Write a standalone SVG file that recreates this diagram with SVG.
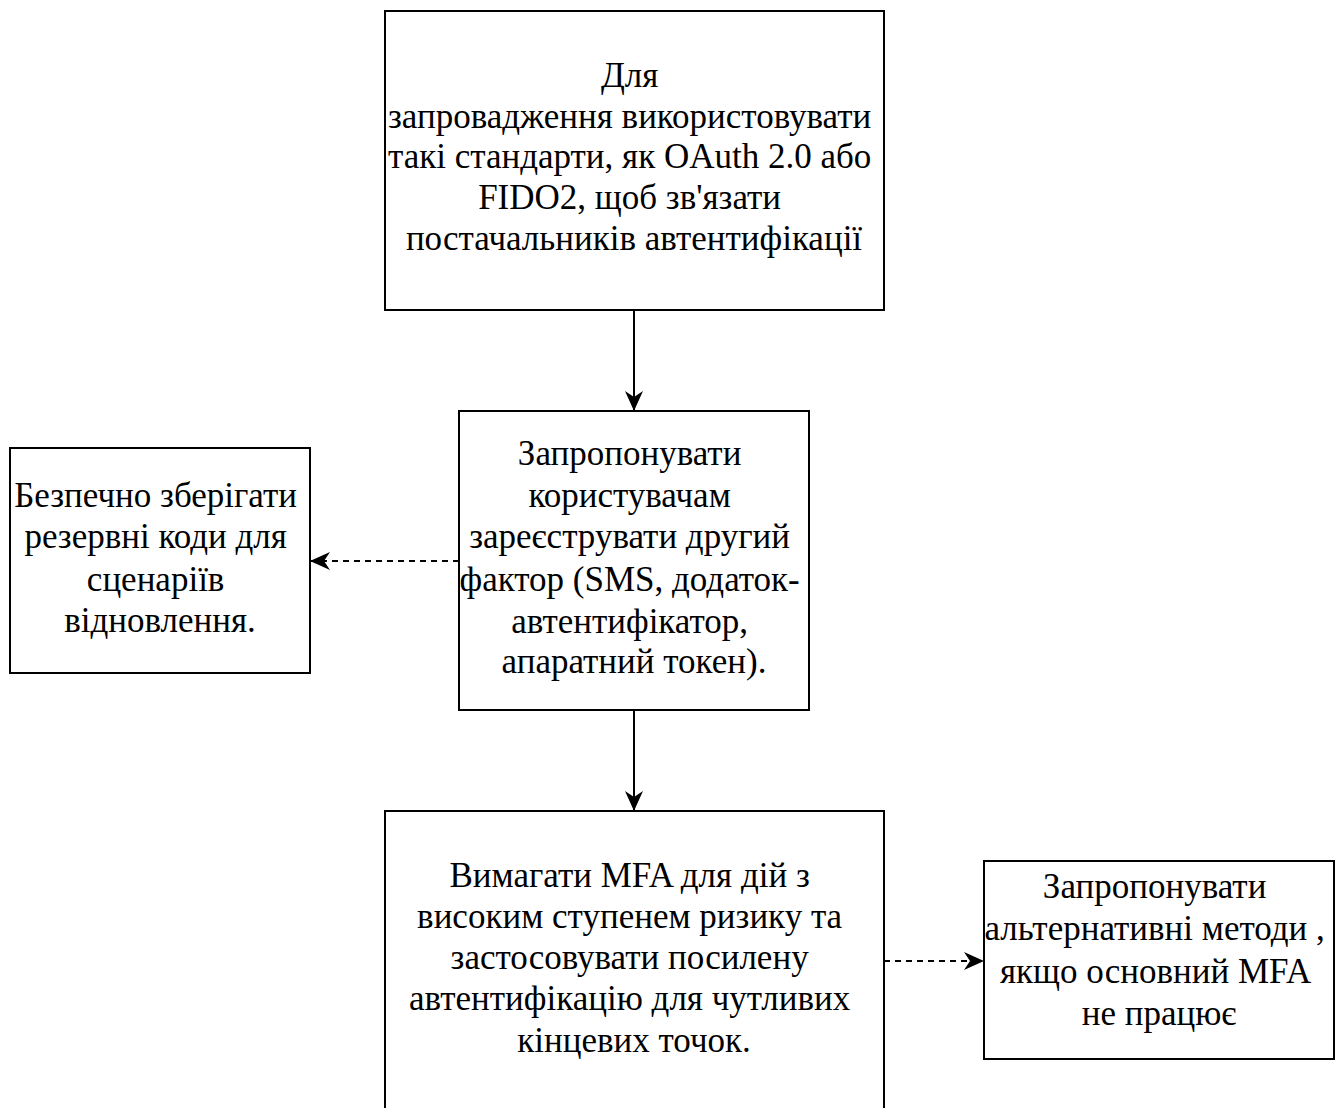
<svg xmlns="http://www.w3.org/2000/svg" width="1343" height="1108" viewBox="0 0 1343 1108">
  <style>
    .box { fill: #ffffff; stroke: #000000; stroke-width: 2; }
    .lbl { font-family: "Liberation Serif", "Times New Roman", serif; font-size: 35px; fill: #000000; text-anchor: middle; }
    .edge { fill: none; stroke: #000000; stroke-width: 2; }
    .dashed { stroke-dasharray: 6 5; }
  </style>
  <defs>
    <!-- notched arrowhead shared by all connectors -->
    <marker id="arrow" viewBox="0 0 20 18" refX="19" refY="9" markerWidth="20" markerHeight="18" markerUnits="userSpaceOnUse" orient="auto">
      <path d="M0,0 L20,9 L0,18 L6,9 Z" fill="#000000"/>
    </marker>
  </defs>
  <rect width="1343" height="1108" fill="#ffffff"/>

  <g id="connectors">
    <line class="edge" x1="634" y1="310" x2="634" y2="410" marker-end="url(#arrow)"/>
    <line class="edge" x1="634" y1="710" x2="634" y2="810" marker-end="url(#arrow)"/>
    <line class="edge dashed" x1="459" y1="561" x2="311" y2="561" marker-end="url(#arrow)"/>
    <line class="edge dashed" x1="884" y1="961" x2="983" y2="961" marker-end="url(#arrow)"/>
  </g>

  <g id="node-standards">
    <rect class="box" x="385" y="11" width="499" height="299"/>
    <text class="lbl">
      <tspan x="634" y="87">Для</tspan>
      <tspan x="634" y="128">запровадження використовувати</tspan>
      <tspan x="634" y="168">такі стандарти, як OAuth 2.0 або</tspan>
      <tspan x="634" y="209">FIDO2, щоб зв'язати</tspan>
      <tspan x="634" y="250">постачальників автентифікації</tspan>
    </text>
  </g>

  <g id="node-register">
    <rect class="box" x="459" y="411" width="350" height="299"/>
    <text class="lbl">
      <tspan x="634" y="465">Запропонувати</tspan>
      <tspan x="634" y="507">користувачам</tspan>
      <tspan x="634" y="548">зареєструвати другий</tspan>
      <tspan x="634" y="591">фактор (SMS, додаток-</tspan>
      <tspan x="634" y="633">автентифікатор,</tspan>
      <tspan x="634" y="673">апаратний токен).</tspan>
    </text>
  </g>

  <g id="node-backup">
    <rect class="box" x="10" y="448" width="300" height="225"/>
    <text class="lbl">
      <tspan x="160" y="507">Безпечно зберігати</tspan>
      <tspan x="160" y="548">резервні коди для</tspan>
      <tspan x="160" y="591">сценаріїв</tspan>
      <tspan x="160" y="632">відновлення.</tspan>
    </text>
  </g>

  <g id="node-mfa">
    <rect class="box" x="385" y="811" width="499" height="320"/>
    <text class="lbl">
      <tspan x="634" y="887">Вимагати MFA для дій з</tspan>
      <tspan x="634" y="928">високим ступенем ризику та</tspan>
      <tspan x="634" y="969">застосовувати посилену</tspan>
      <tspan x="634" y="1010">автентифікацію для чутливих</tspan>
      <tspan x="634" y="1052">кінцевих точок.</tspan>
    </text>
  </g>

  <g id="node-fallback">
    <rect class="box" x="984" y="861" width="350" height="198"/>
    <text class="lbl">
      <tspan x="1159" y="898">Запропонувати</tspan>
      <tspan x="1159" y="940">альтернативні методи ,</tspan>
      <tspan x="1159" y="983">якщо основний MFA</tspan>
      <tspan x="1159" y="1025">не працює</tspan>
    </text>
  </g>
</svg>
